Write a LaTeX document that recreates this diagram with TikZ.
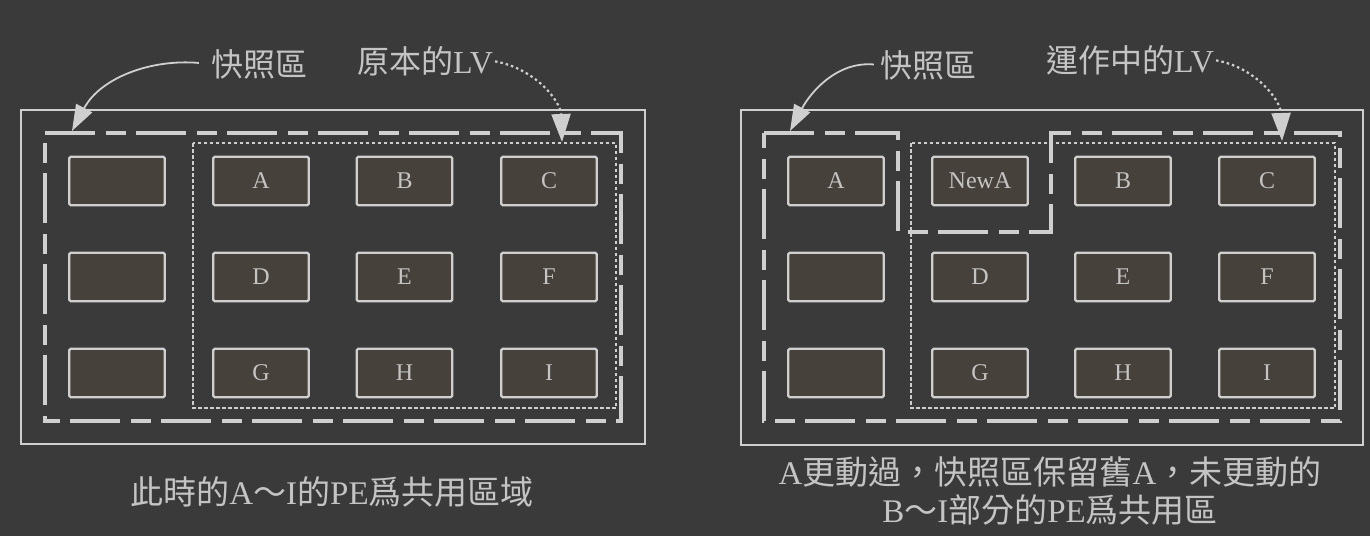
\documentclass[tikz,border=0pt]{standalone}
\usepackage{fontspec}
\setmainfont{Liberation Serif}
\newfontfamily\cjk{Noto Sans CJK TC}
\usetikzlibrary{arrows.meta}
\definecolor{bg}{HTML}{3A3A3A}
\definecolor{ln}{HTML}{CFCFCF}
\definecolor{tx}{HTML}{C4C4C4}
\definecolor{pefill}{HTML}{47413B}
\begin{document}
\begin{tikzpicture}[x=1pt,y=-1pt,
  pe/.style={draw=ln, line width=2.4pt, fill=pefill, minimum width=95.5pt, minimum height=48.5pt, inner sep=0pt, rounded corners=1.5pt, text=tx, font=\fontsize{24}{24}\selectfont},
  frame/.style={draw=ln, line width=2.2pt},
  snap/.style={draw=ln, line width=3.2pt, dash pattern=on 50pt off 10.5pt on 20pt off 10.5pt},
  lv/.style={draw=ln, line width=2.4pt, dash pattern=on 3.5pt off 2.5pt},
  lbl/.style={text=tx, font=\fontsize{32}{32}\selectfont, inner sep=0pt},
  captext/.style={text=tx, font=\fontsize{33}{38}\selectfont, inner sep=0pt, align=center},
  solidarrow/.style={draw=ln, line width=1.8pt, -{Triangle[length=26pt,width=18pt]}},
  dotarrow/.style={draw=ln, line width=2.2pt, dash pattern=on 2.5pt off 3pt, -{Triangle[length=28pt,width=19pt]}},
]
\useasboundingbox (0,0) rectangle (1370,536);
\fill[bg] (0,0) rectangle (1370,536);

% ---------- left panel ----------
\draw[frame] (21,110) rectangle (645,444);
\draw[snap] (45,133) -- (621,133) -- (621,421) -- (45,421) -- cycle;
\draw[lv] (193,143) rectangle (616,408);

\node[pe] (l1) at (117,181) {};
\node[pe] (lA) at (261,181) {A};
\node[pe] (lB) at (404.5,181) {B};
\node[pe] (lC) at (549,181) {C};
\node[pe] (l2) at (117,277) {};
\node[pe] (lD) at (261,277) {D};
\node[pe] (lE) at (404.5,277) {E};
\node[pe] (lF) at (549,277) {F};
\node[pe] (l3) at (117,373) {};
\node[pe] (lG) at (261,373) {G};
\node[pe] (lH) at (404.5,373) {H};
\node[pe] (lI) at (549,373) {I};

\node[lbl] (lsnap) at (259,64) {\cjk 快照區};
\node[lbl] (llv) at (425,61) {{\cjk 原本的}LV};
\coordinate (lsnaptip) at (72,131);
\coordinate (llvtip) at (562,142);
\draw[solidarrow, shorten <=12pt] (lsnap.west) to[out=175,in=62] (lsnaptip);
\draw[dotarrow, shorten <=2pt] (llv.east) to[out=-10,in=92] (llvtip);

\node[captext] (lcap) at (332,492) {{\cjk 此時的}A{\cjk ～}I{\cjk 的}PE{\cjk 爲共用區域}};

% ---------- right panel ----------
\draw[frame] (741,110) rectangle (1363,445);
\draw[snap] (764,133) -- (898,133) -- (898,232) -- (1051,232) -- (1051,133) -- (1340,133) -- (1340,421) -- (764,421) -- cycle;
\draw[lv] (911,143) rectangle (1335,408);

\node[pe] (rA) at (836,181) {A};
\node[pe] (rNewA) at (980,181) {NewA};
\node[pe] (rB) at (1123,181) {B};
\node[pe] (rC) at (1267,181) {C};
\node[pe] (r2) at (836,277) {};
\node[pe] (rD) at (980,277) {D};
\node[pe] (rE) at (1123,277) {E};
\node[pe] (rF) at (1267,277) {F};
\node[pe] (r3) at (836,373) {};
\node[pe] (rG) at (980,373) {G};
\node[pe] (rH) at (1123,373) {H};
\node[pe] (rI) at (1267,373) {I};

\node[lbl] (rsnap) at (928,65) {\cjk 快照區};
\node[lbl] (rlv) at (1130,60) {{\cjk 運作中的}LV};
\coordinate (rsnaptip) at (790,131);
\coordinate (rlvtip) at (1282,141);
\draw[solidarrow, shorten <=6pt] (rsnap.west) to[out=175,in=62] (rsnaptip);
\draw[dotarrow, shorten <=2pt] (rlv.east) to[out=-10,in=92] (rlvtip);

\node[captext] (rcap) at (1050,491) {A{\cjk 更動過，快照區保留舊}A{\cjk ，未更動的}\\B{\cjk ～}I{\cjk 部分的}PE{\cjk 爲共用區}};
\end{tikzpicture}
\end{document}
